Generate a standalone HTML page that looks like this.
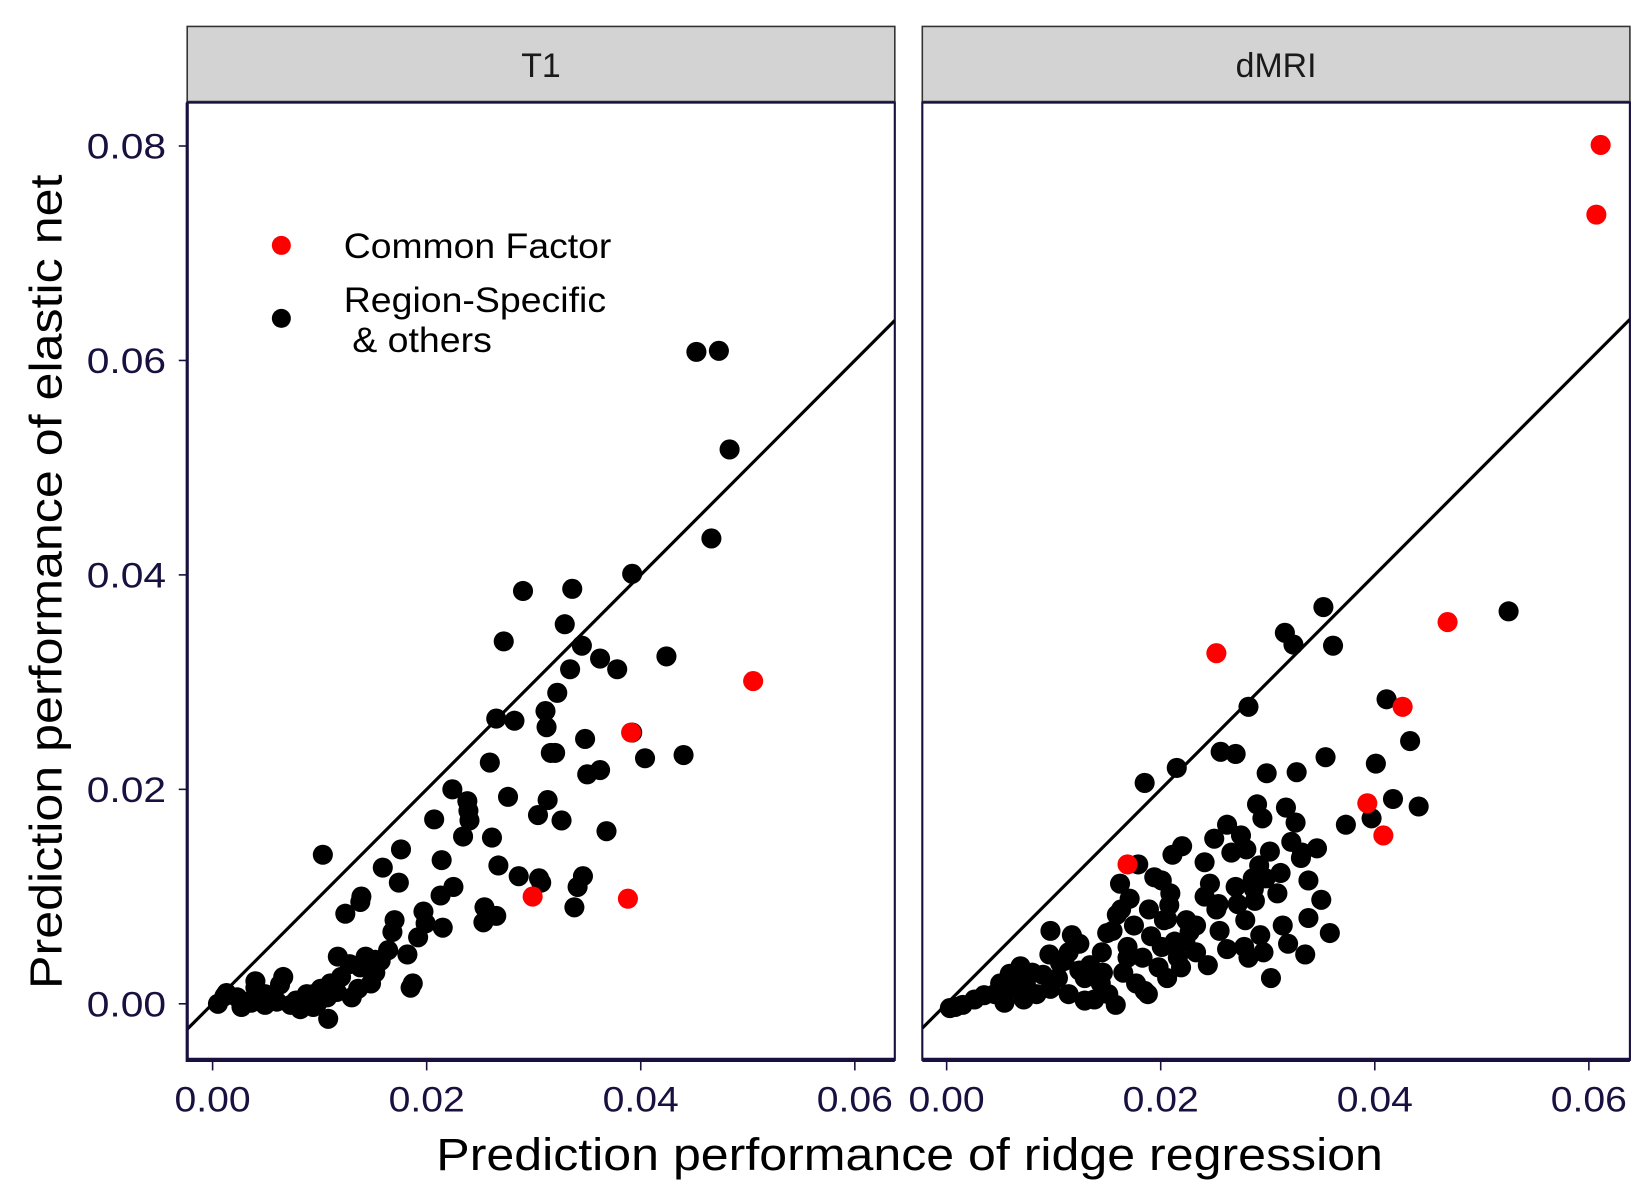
<!DOCTYPE html>
<html><head><meta charset="utf-8"><style>
html,body{margin:0;padding:0;background:#fff;}
svg{display:block;}
text{font-family:"Liberation Sans",Arial,sans-serif;}
</style></head><body>
<svg id="chart" width="1650" height="1200" viewBox="0 0 1560 1134.5" preserveAspectRatio="none" xmlns="http://www.w3.org/2000/svg">
<rect x="0" y="0" width="1560" height="1134.5" fill="#fff"/>
<g id="panels"></g>
<text x="0" y="0" transform="translate(58,550) rotate(-90)" text-anchor="middle" font-size="43" textLength="770" lengthAdjust="spacingAndGlyphs" fill="#000">Prediction performance of elastic net</text>
<text x="860" y="1106" text-anchor="middle" font-size="43" textLength="895" lengthAdjust="spacingAndGlyphs" fill="#000">Prediction performance of ridge regression</text>
<g>
<circle cx="266" cy="232" r="9" fill="#ff0000"/>
<text x="325" y="244" font-size="33" textLength="253" lengthAdjust="spacingAndGlyphs" fill="#000">Common Factor</text>
<circle cx="266" cy="301" r="9" fill="#000"/>
<text x="325" y="295" font-size="33" textLength="248" lengthAdjust="spacingAndGlyphs" fill="#000">Region-Specific</text>
<text x="333" y="333" font-size="33" textLength="132" lengthAdjust="spacingAndGlyphs" fill="#000">&amp; others</text>
</g>
</svg>
<script>
// values in units of 1e-3
const panelNames = ["T1", "dMRI"];
const xTicks = [0, 0.02, 0.04, 0.06];
const yTicks = [0, 0.02, 0.04, 0.06, 0.08];
const xTickLabels = ["0.00", "0.02", "0.04", "0.06"];
const yTickLabels = ["0.00", "0.02", "0.04", "0.06", "0.08"];

const t1RedX = [29.9, 39.1, 38.8, 50.5];
const t1RedY = [10.0, 25.3, 9.8, 30.1];
const t1BlackX = [45.2,47.3,48.3,46.6,39.2,33.6,29.0,27.2,32.9,34.5,36.2,37.8,33.4,42.4,44.0,40.4,39.2,32.2,31.1,28.2,26.5,31.2,31.6,32.0,34.8,35.0,36.2,25.9,27.6,31.3,30.4,32.6,36.8,23.8,23.9,22.4,24.0,23.4,26.1,26.7,28.6,30.5,30.7,33.8,34.1,34.6,25.4,25.3,26.5,20.7,21.4,22.5,21.3,21.5,19.7,19.9,19.2,17.4,17.6,15.9,13.9,13.8,12.4,10.3,17.0,16.8,16.4,15.7,15.2,14.3,13.8,12.8,11.7,12.0,11.0,10.7,10.8,9.8,9.4,8.2,7.3,6.6,6.3,5.6,4.9,4.0,4.0,2.9,2.3,1.3,0.5,1.1,4.9,6.0,7.8,9.4,14.8,15.2,18.7,18.2,18.5,13.6,13.0,11.6,10.1,8.8,3.6,2.7,4.5];
const t1BlackY = [60.8,60.9,51.7,43.4,40.1,38.7,38.5,33.8,35.4,33.4,32.2,31.2,31.2,32.4,23.2,22.9,25.3,29.0,27.3,26.4,26.6,25.8,23.4,23.4,24.7,21.4,21.8,22.5,19.3,19.0,17.6,17.1,16.1,18.9,18.0,20.0,17.1,15.6,15.5,12.9,11.9,11.7,11.3,9.0,10.9,11.9,9.0,7.6,8.2,17.2,13.4,10.9,10.1,7.1,8.6,7.5,6.2,11.3,14.4,12.7,10.0,9.5,8.4,13.9,7.8,6.7,5.0,4.0,4.1,4.4,3.4,3.7,4.4,2.5,1.9,0.6,-1.4,0.1,0.9,-0.5,-0.1,2.5,1.8,0.4,0.9,2.1,1.5,0.2,0.6,1.0,0.0,0.7,-0.1,0.2,0.3,-0.3,1.9,2.9,1.9,4.6,1.5,1.4,0.6,1.1,1.4,0.9,0.1,-0.3,0.7];

const dRedX = [61.1, 60.7, 46.8, 25.2, 42.6, 39.3, 40.8, 16.9];
const dRedY = [80.1, 73.6, 35.6, 32.7, 27.7, 18.7, 15.7, 13.0];
const dBlackX = [52.5,35.2,31.6,32.4,36.1,28.2,41.1,43.3,35.4,40.1,41.7,44.1,39.7,37.3,21.5,18.5,25.6,27.0,29.9,32.7,29.0,29.5,27.5,32.6,31.7,32.2,33.1,33.2,34.6,33.8,35.0,35.8,31.9,33.5,33.8,30.3,28.7,27.0,26.6,26.2,25.0,24.1,22.0,21.1,20.1,19.4,17.9,16.2,20.9,20.6,18.9,20.1,22.7,25.2,26.2,24.4,23.3,27.9,29.3,30.9,28.0,29.2,29.8,28.6,27.2,25.4,24.6,24.1,22.4,21.3,20.3,19.1,17.5,16.9,15.5,15.9,14.5,13.4,12.4,11.4,11.7,9.7,9.6,9.0,8.0,6.9,6.8,6.2,5.9,5.0,4.5,3.5,2.6,1.5,0.8,0.3,10.6,12.9,14.4,16.5,17.7,18.8,15.1,13.8,11.4,9.7,8.4,7.2,5.4,16.9,19.8,20.6,18.3,17.1,20.8,22.3,27.8,28.8,31.2,30.2,31.4,29.6,28.2,25.5,23.3,21.6,21.9,16.3,15.0,14.6,12.4,10.4,7.4,11.0,12.9,15.8,18.5];
const dBlackY = [36.6,37.0,34.6,33.5,33.4,27.7,28.4,24.5,23.0,22.4,19.1,18.4,17.3,16.7,22.0,20.6,23.5,23.3,21.5,21.6,18.6,17.3,15.7,16.9,18.3,15.1,13.6,14.1,14.5,11.5,9.7,6.6,5.6,4.6,8.0,2.4,10.7,10.9,14.1,16.7,15.4,13.2,14.7,13.9,11.5,11.8,13.0,11.2,10.3,7.9,8.8,5.3,6.7,8.8,5.1,3.6,7.3,7.8,6.4,10.3,14.4,12.9,11.7,11.7,9.3,9.3,11.2,10.0,7.8,5.8,7.8,6.3,7.3,5.3,6.8,8.3,4.8,3.6,5.6,4.8,6.4,6.8,4.6,2.7,2.9,3.5,2.1,1.4,2.8,1.9,0.9,0.8,0.4,-0.1,-0.3,-0.4,3.8,2.4,1.9,2.9,1.9,0.9,0.9,0.4,0.9,1.4,0.9,0.4,0.1,4.3,3.4,2.4,4.3,9.8,9.2,5.8,5.3,9.6,12.2,14.2,7.3,4.8,4.3,6.8,4.8,4.3,3.4,8.8,6.6,2.9,3.1,2.4,1.9,4.0,0.3,-0.1,1.2];

const panels = [
  {left:177, right:846, x0px:201, blackX:t1BlackX, blackY:t1BlackY, redX:t1RedX, redY:t1RedY, showY:true},
  {left:872, right:1541, x0px:895, blackX:dBlackX, blackY:dBlackY, redX:dRedX, redY:dRedY, showY:false}
];
const TOP = 97, BOTTOM = 1002, STRIP_TOP = 25;
const xPerUnit = 10120, y0px = 949, yPerUnit = 10137;
const R = 9.5;
const NS = "http://www.w3.org/2000/svg";
const root = document.getElementById('panels');
function mk(tag, attrs, parent){ const e=document.createElementNS(NS,tag); for(const k in attrs) e.setAttribute(k,attrs[k]); (parent||root).appendChild(e); return e; }

panels.forEach((p, i) => {
  const xs = v => p.x0px + v * xPerUnit;
  const ys = v => y0px - v * yPerUnit;
  const g = mk('g', {});
  
  
  const strip = mk('rect', {x:p.left, y:STRIP_TOP, width:p.right-p.left, height:TOP-STRIP_TOP-1, fill:'#d3d3d3', stroke:'#333', 'stroke-width':1.5}, g);
  
  
  const st = mk('text', {x:(p.left+p.right)/2, y:73, 'text-anchor':'middle', 'font-size':32, fill:'#1a1a1a'}, g);
  st.textContent = panelNames[i];
  
  
  const bg = mk('rect', {x:p.left, y:TOP, width:p.right-p.left, height:BOTTOM-TOP, fill:'#fff', stroke:'#1a1040', 'stroke-width':2}, g);
  
  
  const clipId = 'clip' + i;
  const cp = mk('clipPath', {id:clipId}, g);
  mk('rect', {x:p.left, y:TOP, width:p.right-p.left, height:BOTTOM-TOP}, cp);
  const data = mk('g', {'clip-path':'url(#'+clipId+')'}, g);
  const lo = (p.left - p.x0px)/xPerUnit, hi = (p.right - p.x0px)/xPerUnit;
  const ln = mk('line', {x1:xs(lo), y1:ys(lo), x2:xs(hi), y2:ys(hi), stroke:'#000', 'stroke-width':3}, data);
  
  
  p.blackX.forEach((v, k) => {
    const c = mk('circle', {cx:xs(v/1000), cy:ys(p.blackY[k]/1000), r:R, fill:'#000'}, data);
    
    
  });
  p.redX.forEach((v, k) => {
    const c = mk('circle', {cx:xs(v/1000), cy:ys(p.redY[k]/1000), r:R, fill:'#ff0000'}, data);
    
    
  });
  mk('line', {x1:p.left, y1:BOTTOM, x2:p.right, y2:BOTTOM, stroke:'#1a1040', 'stroke-width':4}, g);
  if (p.showY) mk('line', {x1:p.left, y1:TOP, x2:p.left, y2:BOTTOM+2, stroke:'#1a1040', 'stroke-width':3}, g);
  xTicks.forEach((t, k) => {
    mk('line', {x1:xs(t), y1:BOTTOM, x2:xs(t), y2:BOTTOM+10, stroke:'#1a1040', 'stroke-width':1.5}, g);
    const tl = mk('text', {x:xs(t), y:1051, 'text-anchor':'middle', 'font-size':33, textLength:72, lengthAdjust:'spacingAndGlyphs', fill:'#1a1040'}, g);
    tl.textContent = xTickLabels[k];
    
    
  });
  if (p.showY) yTicks.forEach((t, k) => {
    mk('line', {x1:p.left-8, y1:ys(t), x2:p.left, y2:ys(t), stroke:'#1a1040', 'stroke-width':1.5}, g);
    const tl = mk('text', {x:p.left-20, y:ys(t)+12, 'text-anchor':'end', 'font-size':33, textLength:75, lengthAdjust:'spacingAndGlyphs', fill:'#1a1040'}, g);
    tl.textContent = yTickLabels[k];
    
    
  });
});
</script>
</body></html>
